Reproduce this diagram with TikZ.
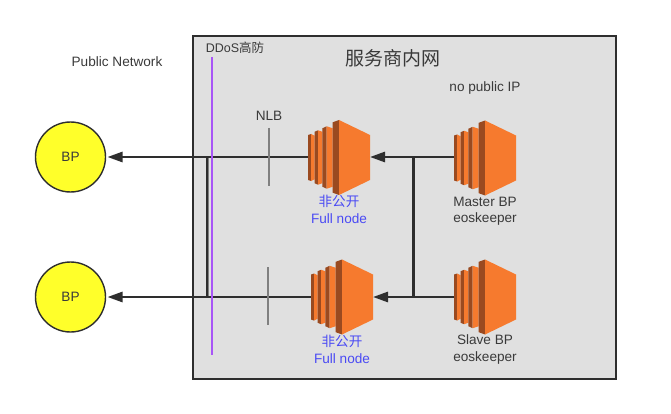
\documentclass[tikz,border=0pt]{standalone}
\usepackage{fontspec}
\setmainfont{Liberation Sans}
\newfontfamily\cjk{Noto Sans CJK SC}
\usetikzlibrary{arrows.meta}
\definecolor{ink}{HTML}{2E2E2E}
\definecolor{panel}{HTML}{E0E0E0}
\definecolor{ored}{HTML}{F67A2E}
\definecolor{odark}{HTML}{9A4A20}
\definecolor{blu}{HTML}{4A4AF4}
\definecolor{txt}{HTML}{3A3A3A}
\definecolor{yel}{HTML}{FFFF2A}
\definecolor{purp}{HTML}{A855F7}
\tikzset{
  x=1pt,y=-1pt,
  lab/.style={font=\fontsize{13.6}{16.5}\selectfont,text=txt,inner sep=0pt,align=center},
  bluelab/.style={font=\fontsize{13.6}{16.5}\selectfont,text=blu,inner sep=0pt,align=center},
  bpnode/.style={circle,draw=ink,line width=1.4pt,fill=yel,minimum size=70pt,inner sep=0pt,font=\fontsize{13.6}{16}\selectfont,text=txt},
  srv/.style={minimum width=62pt,minimum height=75pt,inner sep=0pt},
  wire/.style={draw=ink,line width=1.7pt},
  arrowwire/.style={wire,-{Triangle[length=15pt,width=10.5pt]}},
  bpwire/.style={arrowwire,shorten >=1.5pt},
  bus/.style={draw=ink,line width=3pt},
  thinbus/.style={draw=ink,line width=1.4pt},
  shadebus/.style={draw=gray,line width=1.2pt},
  nlbline/.style={draw=gray,line width=1.5pt},
  pics/ec2/.style={code={
    \fill[odark] (-31,-22.5) -- (-28,-23.5) -- (-28,23.5) -- (-31,22.5) -- cycle;
    \fill[ored] (-28,-23.5) -- (-24.3,-21.8) -- (-24.3,21.8) -- (-28,23.5) -- cycle;
    \fill[odark] (-24.3,-25.8) -- (-21,-27.2) -- (-21,27.2) -- (-24.3,25.8) -- cycle;
    \fill[ored] (-21,-27.2) -- (-16.7,-25.8) -- (-16.7,25.8) -- (-21,27.2) -- cycle;
    \fill[odark] (-16.7,-29.2) -- (-12.3,-31.2) -- (-12.3,31.2) -- (-16.7,29.2) -- cycle;
    \fill[ored] (-12.3,-31.2) -- (-6.3,-29.2) -- (-6.3,29.2) -- (-12.3,31.2) -- cycle;
    \fill[odark] (-6.3,-35.2) -- (0,-37.5) -- (0,37.5) -- (-6.3,35.2) -- cycle;
    \fill[ored] (0,-37.5) -- (31,-22.5) -- (31,22.5) -- (0,37.5) -- cycle;
  }}
}
\begin{document}
\begin{tikzpicture}
\useasboundingbox (0,0) rectangle (671,414);
\node[draw=ink,line width=2pt,fill=panel,minimum width=423pt,minimum height=343pt,inner sep=0pt] (panel) at (404.5,207.5) {};

\node[bpnode] (bp1) at (70.5,157) {BP};
\node[bpnode] (bp2) at (70.5,297) {BP};

\node[srv] (fn1) at (339,157.5) {};
\node[srv] (fn2) at (342,297) {};
\node[srv] (mb) at (485,158) {};
\node[srv] (sb) at (485,297) {};
\pic at (fn1) {ec2};
\pic at (fn2) {ec2};
\pic at (mb) {ec2};
\pic at (sb) {ec2};

\coordinate (jt) at (413,157);
\coordinate (jb) at (413,297);
\coordinate (lt) at (207,157);
\coordinate (lb) at (207,297);
\coordinate (gt) at (208.4,157);
\coordinate (gb) at (208.4,297);

\path[shadebus] (gt) -- (gb);
\path[thinbus] (lt) -- (lb);
\path[bpwire] (fn1.west |- bp1.east) -- (bp1.east);
\path[bpwire] (fn2.west |- bp2.east) -- (bp2.east);
\path[arrowwire] (mb.west |- jt) -- (fn1.east |- jt);
\path[arrowwire] (sb.west |- jb) -- (fn2.east |- jb);
\path[bus] (jt) -- (jb);

\coordinate (pa) at (212,57);
\coordinate (pb) at (212,355);
\draw[purp,line width=2pt] (pa) -- (pb);

\coordinate (n1a) at (269,128);
\coordinate (n1b) at (269,186);
\coordinate (n2a) at (268,267);
\coordinate (n2b) at (268,325);
\path[nlbline] (n1a) -- (n1b);
\path[nlbline] (n2a) -- (n2b);

\node[lab] (t1) at (117,62) {Public Network};
\node[lab,font=\fontsize{12.5}{15}\selectfont] (t2) at (235,48) {DDoS{\cjk 高防}};
\node[lab,font=\fontsize{19}{21}\selectfont\cjk] (t3) at (393,58) {服务商内网};
\node[lab] (t4) at (485,88) {no public IP};
\node[lab] (t5) at (269,116) {NLB};
\node[bluelab] (t6) at (339,209.5) {{\cjk 非公开}\\Full node};
\node[bluelab] (t7) at (342,349.5) {{\cjk 非公开}\\Full node};
\node[lab] (t8) at (485,211) {Master BP\\eoskeeper};
\node[lab] (t9) at (485,349.5) {Slave BP\\eoskeeper};
\end{tikzpicture}
\end{document}
